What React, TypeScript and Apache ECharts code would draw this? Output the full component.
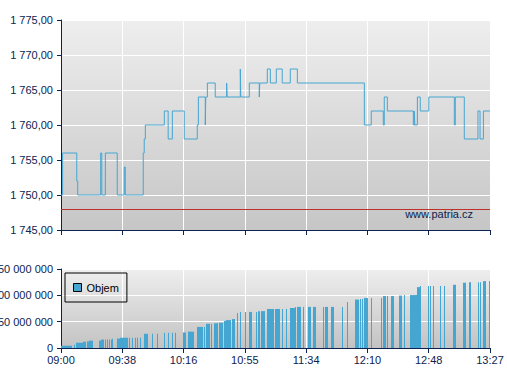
import React, { useEffect, useRef } from 'react';
import * as echarts from 'echarts';

// x axis: minutes after 09:00
const timeLabels = ['09:00', '09:38', '10:16', '10:55', '11:34', '12:10', '12:48', '13:27'];
const sessionMinutes = 267;

// price (step line), value holds until next change
const priceTimes = [
  0, 1.0, 9.8, 10.4, 24.7, 25.4, 27.6, 35.0, 39.4, 40.0,
  51.2, 51.8, 52.5, 64.3, 66.7, 69.3, 76.7, 84.8, 85.5, 89.8,
  90.1, 91.1, 96.0, 103.1, 103.4, 111.6, 111.9, 117.2, 123.4, 123.7,
  128.4, 130.3, 134.0, 137.7, 142.7, 147.1, 188.8, 193.1, 200.6, 201.2,
  203.1, 219.3, 219.9, 220.2, 221.8, 223.6, 228.9, 244.8, 245.4, 251.0,
  259.5, 260.8, 262.9, 267,
];
const priceValues = [
  1750, 1756, 1752, 1750, 1756, 1750, 1756, 1750, 1754, 1750,
  1756, 1758, 1760, 1762, 1758, 1762, 1758, 1760, 1764, 1760,
  1764, 1766, 1764, 1766, 1764, 1768, 1764, 1766, 1764, 1766,
  1768, 1766, 1768, 1766, 1768, 1766, 1760, 1762, 1760, 1764,
  1762, 1760, 1762, 1760, 1764, 1762, 1764, 1760, 1764, 1758,
  1762, 1758, 1762, 1762,
];
const referencePrice = 1748;

// cumulative volume (millions), trades grouped in time spans [start, end]
const volumeStart = [
  0.2, 8.1, 9.1, 11.8, 13.9, 16.0, 17.4, 23.5, 25.1, 27.2,
  28.4, 29.7, 30.9, 31.9, 35.0, 36.7, 42.3, 44.2, 45.9, 47.5,
  49.2, 51.7, 56.6, 59.9, 64.1, 66.6, 69.3, 71.1, 76.1, 78.9,
  84.5, 89.2, 90.1, 93.4, 95.2, 98.5, 101.3, 102.7, 106.2, 109.7,
  111.6, 114.7, 117.2, 121.6, 122.8, 124.5, 128.2, 132.1, 133.4, 135.9,
  137.7, 140.2, 142.5, 145.8, 146.7, 150.8, 153.7, 157.0, 163.3, 164.3,
  168.2, 175.1, 178.2, 183.0, 186.1, 187.3, 188.6, 193.1, 199.2, 200.4,
  202.9, 205.4, 210.6, 213.5, 217.4, 221.1, 221.8, 223.4, 228.6, 229.7,
  231.7, 236.1, 238.6, 244.2, 250.4, 254.1, 259.7, 260.8, 262.5, 266.6,
];
const volumeEnd = [
  6.0, 8.1, 11.0, 13.7, 14.8, 17.2, 19.5, 25.1, 26.3, 27.2,
  28.4, 29.7, 30.9, 31.9, 36.3, 40.9, 42.3, 44.2, 45.9, 47.5,
  49.2, 53.7, 56.6, 59.9, 64.1, 66.6, 69.3, 71.1, 77.0, 82.2,
  87.8, 89.2, 92.1, 93.4, 96.9, 100.4, 101.9, 105.2, 107.5, 109.7,
  111.6, 114.7, 118.1, 121.6, 123.4, 126.3, 131.1, 132.1, 135.1, 135.9,
  137.7, 140.2, 145.0, 145.8, 148.6, 150.8, 154.8, 157.9, 163.3, 165.4,
  169.1, 175.1, 178.2, 185.0, 186.1, 187.3, 190.3, 193.1, 199.2, 201.5,
  202.9, 206.5, 211.8, 213.5, 220.3, 221.1, 222.6, 223.4, 228.6, 229.7,
  231.7, 236.1, 238.6, 245.4, 251.3, 254.7, 259.7, 260.8, 263.7, 266.6,
];
const volumeMillions = [
  4.3, 6, 10, 10, 12, 12.5, 14, 14, 16, 16,
  16, 16, 16, 17.6, 18, 19.5, 19.5, 19.5, 19.5, 19.5,
  19.5, 27, 27, 27, 29, 29, 29, 29, 29.5, 31,
  40, 40, 46, 46, 47, 48, 51.5, 53, 55, 66.6,
  68.5, 68.5, 68.5, 68.5, 70, 70, 74, 74, 74, 74,
  74, 74, 76, 78, 78, 78, 78, 78, 78, 78,
  78, 78, 87.4, 92, 93, 93, 95, 95, 95, 98.6,
  98.6, 98.6, 99.5, 100.5, 100.5, 100.5, 115.6, 117.5, 117.5, 117.5,
  117.5, 117.5, 117.5, 120, 124, 125, 125, 125, 127, 127,
];

const NAVY = '#0c2350';
const BLUE = '#46a6d2';
const FONT = '"Liberation Sans", Arial, sans-serif';

const fmtPrice = (v: number) => {
  const s = v.toFixed(2).replace('.', ',');
  const [i, d] = s.split(',');
  return i.replace(/\B(?=(\d{3})+(?!\d))/g, ' ') + ',' + d;
};
const fmtVol = (v: number) => (v === 0 ? '0' : `${v} 000 000`);

export default function App() {
  const ref = useRef<HTMLDivElement>(null);
  useEffect(() => {
    if (!ref.current) return;
    const chart = echarts.init(ref.current, undefined, { renderer: 'svg' });
    const tickStep = sessionMinutes / (timeLabels.length - 1);
    const xLabel = (v: number) => timeLabels[Math.round(v / tickStep)] ?? '';
    const grad = (top: string, bottom: string) =>
      new echarts.graphic.LinearGradient(0, 0, 0, 1, [
        { offset: 0, color: top },
        { offset: 1, color: bottom },
      ]);
    const xAxisBase = {
      type: 'value' as const,
      min: 0,
      max: sessionMinutes,
      interval: tickStep,
      axisLine: { show: true, lineStyle: { color: NAVY, width: 1 } },
      axisTick: { show: true, length: 5, lineStyle: { color: NAVY } },
      splitLine: { show: true, lineStyle: { color: '#ffffff', width: 1 } },
    };
    const yAxisBase = {
      type: 'value' as const,
      axisLine: { show: true, lineStyle: { color: NAVY, width: 1 } },
      axisTick: { show: true, length: 4, lineStyle: { color: NAVY } },
      splitLine: { show: true, lineStyle: { color: '#ffffff', width: 1 } },
    };
    chart.setOption({
      animation: false,
      textStyle: { fontFamily: FONT },
      grid: [
        {
          left: 61, top: 20, width: 429, height: 210, show: true, borderWidth: 0,
          containLabel: false, outerBoundsMode: 'none',
          backgroundColor: grad('#eeeeee', '#c6c6c6'),
        },
        {
          left: 61, top: 269, width: 429, height: 79, show: true, borderWidth: 0,
          containLabel: false, outerBoundsMode: 'none',
          backgroundColor: grad('#eeeeee', '#c3c3c3'),
        },
      ],
      xAxis: [
        { ...xAxisBase, gridIndex: 0, axisLabel: { show: false } },
        {
          ...xAxisBase,
          gridIndex: 1,
          axisLabel: { show: true, color: NAVY, fontSize: 11, fontFamily: FONT, margin: 6, formatter: xLabel },
        },
      ],
      yAxis: [
        {
          ...yAxisBase,
          gridIndex: 0,
          min: 1745,
          max: 1775,
          interval: 5,
          axisLabel: { color: NAVY, fontSize: 11, fontFamily: FONT, margin: 8, formatter: fmtPrice },
        },
        {
          ...yAxisBase,
          gridIndex: 1,
          min: 0,
          max: 150,
          interval: 50,
          axisLabel: { color: NAVY, fontSize: 11, fontFamily: FONT, margin: 8, formatter: fmtVol },
        },
      ],
      legend: {
        left: 65,
        top: 273,
        orient: 'horizontal',
        padding: [9, 8, 9, 8],
        borderColor: '#000000',
        borderWidth: 1,
        itemWidth: 8,
        itemHeight: 8,
        itemGap: 5,
        textStyle: { fontSize: 11, color: '#000000', fontFamily: FONT },
        data: [{ name: 'Objem', icon: 'rect', itemStyle: { color: BLUE, borderColor: '#000000', borderWidth: 1 } }],
      },
      graphic: [
        {
          type: 'text',
          x: 473,
          y: 214,
          z: 100,
          style: {
            text: 'www.patria.cz',
            align: 'right',
            verticalAlign: 'middle',
            fill: NAVY,
            font: `11px ${FONT}`,
          },
        },
      ],
      series: [
        {
          name: 'Cena',
          type: 'line',
          xAxisIndex: 0,
          yAxisIndex: 0,
          step: 'end',
          symbol: 'none',
          lineStyle: { color: BLUE, width: 1 },
          data: priceTimes.map((t, i) => [t, priceValues[i]]),
          markLine: {
            silent: true,
            symbol: 'none',
            label: { show: false },
            lineStyle: { color: '#c0302a', width: 1, type: 'solid', opacity: 1 },
            emphasis: { disabled: true },
            data: [{ yAxis: referencePrice }],
          },
        },
        {
          name: 'Objem',
          type: 'custom',
          xAxisIndex: 1,
          yAxisIndex: 1,
          encode: { x: [0, 1], y: 2 },
          itemStyle: { color: BLUE },
          data: volumeStart.map((t, i) => [t, volumeEnd[i], volumeMillions[i]]),
          renderItem: (params: any, api: any) => {
            const top = api.coord([api.value(0), api.value(2)]);
            const end = api.coord([api.value(1), 0]);
            const x = Math.round(top[0]);
            const w = Math.max(1, Math.round(end[0]) - x + 1);
            return {
              type: 'rect',
              shape: { x, y: top[1], width: w, height: end[1] - top[1] },
              style: { fill: BLUE },
            };
          },
        },
      ],
    });
    return () => chart.dispose();
  }, []);
  return (
    <div
      ref={ref}
      style={{ position: 'absolute', left: 0, top: 0, width: 507, height: 380, background: '#ffffff' }}
    />
  );
}
